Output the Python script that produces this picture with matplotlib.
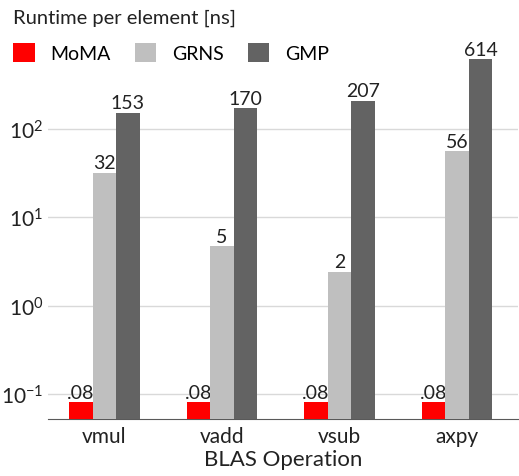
import matplotlib.pyplot as plt
import numpy as np
from matplotlib.patches import Patch

plt.rcParams['font.family'] = ['Lato', 'DejaVu Sans']
plt.rcParams['mathtext.fontset'] = 'custom'
plt.rcParams['mathtext.rm'] = 'Lato'
plt.rcParams['axes.unicode_minus'] = False

ops = ["vmul", "vadd", "vsub", "axpy"]
moma = [0.08, 0.08, 0.08, 0.08]
grns = [32, 4.7, 2.4, 56]
gmp = [153, 170, 207, 614]
series = ["MoMA", "GRNS", "GMP"]
colors = ["#ff0000", "#bfbfbf", "#636363"]

fig = plt.figure(figsize=(5.19, 4.77), dpi=100)
ax = fig.add_axes([0.0925, 0.1195, 0.906, 0.7935])

x = np.arange(len(ops))
w = 0.2
for i, (vals, c) in enumerate(zip([moma, grns, gmp], colors)):
    bars = ax.bar(x + (i - 1) * w, vals, w, color=c, zorder=3)
    for b, v in zip(bars, vals):
        lbl = ".08" if v < 1 else f"{v:.0f}"
        ax.text(b.get_x() + b.get_width() / 2, v * 1.04, lbl,
                ha='center', va='bottom', fontsize=14, color='#222222')

ax.set_yscale('log')
ax.set_ylim(0.052, 1000)
ax.set_xlim(-0.48, 3.52)
ax.set_yticks([0.1, 1, 10, 100])
ax.minorticks_off()
ax.yaxis.grid(True, color='#d9d9d9', linewidth=1, zorder=0)
ax.set_xticks(x)
ax.set_xticklabels(ops)
ax.tick_params(axis='both', length=0, labelsize=15, colors='#222222')
ax.tick_params(axis='x', pad=5)
for s in ['top', 'right', 'left']:
    ax.spines[s].set_visible(False)
ax.spines['bottom'].set_color('#595959')
ax.set_xlabel("BLAS Operation", fontsize=16, color='#222222', labelpad=2)

fig.text(0.025, 0.962, "Runtime per element [ns]", fontsize=14.5,
         color='#222222', va='center', ha='left')
handles = [Patch(facecolor=c, edgecolor='none') for c in colors]
fig.legend(handles, series, ncol=3, loc='center left',
           bbox_to_anchor=(-0.008, 0.888), frameon=False, fontsize=14,
           handlelength=1.1, handleheight=1.1, columnspacing=1.25,
           handletextpad=0.8)

fig.savefig("out.png", dpi=100)
